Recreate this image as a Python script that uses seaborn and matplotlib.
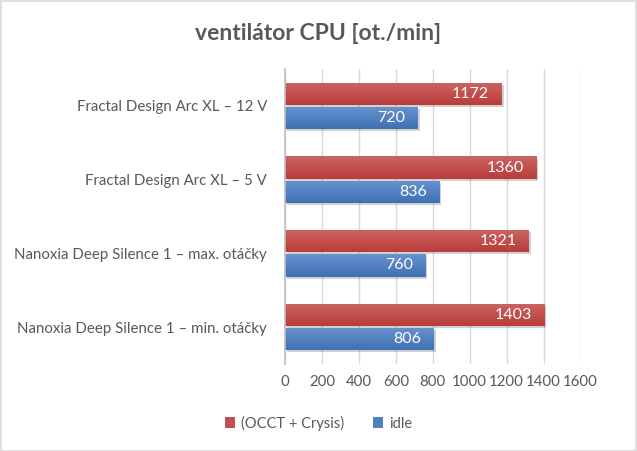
import matplotlib
matplotlib.use("Agg")
import matplotlib.pyplot as plt
import matplotlib.patheffects as pe
from matplotlib.patches import Rectangle
from matplotlib.colors import LinearSegmentedColormap
import seaborn as sns
import pandas as pd
import numpy as np

categories = [
    "Fractal Design Arc XL – 12 V",
    "Fractal Design Arc XL – 5 V",
    "Nanoxia Deep Silence 1 – max. otáčky",
    "Nanoxia Deep Silence 1 – min. otáčky",
]
series_names = ["(OCCT + Crysis)", "idle"]
load_values = [1172, 1360, 1321, 1403]
idle_values = [720, 836, 760, 806]
x_ticks = [0, 200, 400, 600, 800, 1000, 1200, 1400, 1600]

colors = {"(OCCT + Crysis)": "#C0504D", "idle": "#4F81BD"}
gradients = {"(OCCT + Crysis)": ("#CB6562", "#B83C39"), "idle": ("#6892CE", "#3E71B4")}
text_color = "#595959"

df = pd.DataFrame({
    "kategorie": categories * 2,
    "serie": [series_names[0]] * 4 + [series_names[1]] * 4,
    "hodnota": load_values + idle_values,
})

sns.set_theme(style="white")
plt.rcParams["font.family"] = ["Lato", "DejaVu Sans"]

fig = plt.figure(figsize=(6.37, 4.51), dpi=100)
ax = fig.add_axes([285 / 637, 1 - 364 / 451, (580.5 - 285) / 637, (364 - 69) / 451])

sns.barplot(data=df, y="kategorie", x="hodnota", hue="serie", hue_order=series_names,
            palette=colors, saturation=1, orient="h", width=0.655, gap=0.08, ax=ax,
            legend=True, edgecolor="none", linewidth=0)

ax.set_xlim(0, 1600)
ax.set_ylim(3.5, -0.5)

# shadows, gradients + labels
for cont, name in zip(ax.containers, series_names):
    top, bot = gradients[name]
    cmap = LinearSegmentedColormap.from_list(name, [top, bot])
    grad = np.linspace(0, 1, 64).reshape(-1, 1)
    for p in cont.patches:
        p.set_path_effects([pe.SimplePatchShadow(offset=(1.5, -1.5), shadow_rgbFace="#000000",
                                                 alpha=0.18),
                            pe.Normal()])
        x0, y0 = p.get_x(), p.get_y()
        w, h = p.get_width(), p.get_height()
        im = ax.imshow(grad, cmap=cmap, aspect="auto", extent=(x0, x0 + w, y0 + h, y0),
                       origin="upper", zorder=p.get_zorder() + 0.1, interpolation="bilinear")
        im.set_clip_path(p)
    texts = ax.bar_label(cont, fmt="%d", label_type="edge", padding=-9, color="white",
                         fontsize=11.5)
    for t in texts:
        t.set_ha("right")
        t.set_zorder(10)

ax.set_xlim(0, 1600)
ax.set_ylim(3.5, -0.5)
ax.set_aspect("auto")
ax.set_xticks(x_ticks)
ax.set_xticklabels([str(v) for v in x_ticks], color=text_color, fontsize=10.8)
ax.tick_params(axis="y", labelsize=10.8, labelcolor=text_color, length=0, pad=13)
ax.tick_params(axis="x", length=0, pad=8)
ax.grid(axis="x", color="#D9D9D9", linewidth=1)
ax.set_axisbelow(True)
for s in ["top", "right", "bottom"]:
    ax.spines[s].set_visible(False)
ax.spines["left"].set_color("#BFBFBF")
ax.spines["left"].set_linewidth(1.2)
ax.spines["left"].set_zorder(12)
ax.set_xlabel("")
ax.set_ylabel("")

leg = ax.legend(loc="center", ncol=2, frameon=False, fontsize=10.5, handlelength=0.7,
                handleheight=0.7, handletextpad=0.4, columnspacing=2.0,
                bbox_to_anchor=(318.5 / 637, 1 - 423 / 451), bbox_transform=fig.transFigure)
for t in leg.get_texts():
    t.set_color(text_color)

fig.text(0.5, 1 - 33 / 451, "ventilátor CPU [ot./min]", ha="center", va="center",
         fontsize=16.5, fontweight="bold", color=text_color)

fig.patches.append(Rectangle((0.5 / 637, 0.5 / 451), 1 - 1.5 / 637, 1 - 1.5 / 451,
                             transform=fig.transFigure, fill=False, edgecolor="#D9D9D9",
                             linewidth=1.2))

fig.savefig("out.png", dpi=100, facecolor="white")
